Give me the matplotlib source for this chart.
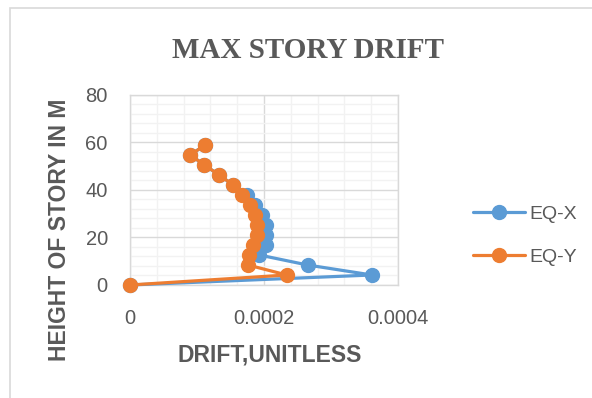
import matplotlib
matplotlib.use("Agg")
import matplotlib.pyplot as plt
from matplotlib.patches import Rectangle
from matplotlib.ticker import MultipleLocator

# story heights (m) and max drift per story for both load cases
height = [0, 4.2, 8.4, 12.6, 16.8, 21.0, 25.2, 29.4, 33.6, 37.8, 42.0, 46.2, 50.4, 54.6, 58.8]
drift_x = [0, 0.000361, 0.000265, 0.000193, 0.000203, 0.000203, 0.000203, 0.000197,
           0.000187, 0.000174, 0.000154, 0.000133, 0.000111, 0.000090, 0.000112]
drift_y = [0, 0.000234, 0.000176, 0.000177, 0.000184, 0.000189, 0.000189, 0.000187,
           0.000179, 0.000167, 0.000154, 0.000133, 0.000111, 0.000090, 0.000112]

x_ticks = [0, 0.0002, 0.0004]
x_tick_labels = ["0", "0.0002", "0.0004"]
y_ticks = [0, 20, 40, 60, 80]

blue = "#5B9BD5"
orange = "#ED7D31"
text_gray = "#595959"

W, H = 592, 398
fig = plt.figure(figsize=(W / 100, H / 100), dpi=100)
fig.patch.set_facecolor("white")

# chart frame
fig.patches.append(Rectangle((10 / W, -0.1), 1.2, 1 - 8 / H + 0.1, transform=fig.transFigure,
                             fill=False, edgecolor="#d9d9d9", linewidth=1.2))

ax = fig.add_axes([130 / W, 1 - 285 / H, 268 / W, (285 - 94.5) / H])

ax.plot(drift_x, height, color=blue, lw=2.3, marker="o", ms=10, label="EQ-X",
        solid_capstyle="round", zorder=3, clip_on=False)
ax.plot(drift_y, height, color=orange, lw=2.3, marker="o", ms=10, label="EQ-Y",
        solid_capstyle="round", zorder=4, clip_on=False)

ax.set_xlim(0, 0.0004)
ax.set_ylim(0, 80)
ax.set_xticks(x_ticks)
ax.set_xticklabels(x_tick_labels)
ax.set_yticks(y_ticks)
ax.xaxis.set_minor_locator(MultipleLocator(0.00004))
ax.yaxis.set_minor_locator(MultipleLocator(4))
ax.grid(which="minor", color="#f2f2f2", lw=1.0, zorder=0)
ax.grid(which="major", color="#d9d9d9", lw=1.0, zorder=1)
ax.set_axisbelow(True)
for s in ax.spines.values():
    s.set_color("#d9d9d9")
    s.set_linewidth(1.0)
ax.tick_params(which="both", length=0)
ax.tick_params(axis="x", pad=17, labelsize=14.5, labelcolor=text_gray)
ax.tick_params(axis="y", pad=16, labelsize=14.5, labelcolor=text_gray)
for lab in ax.get_xticklabels() + ax.get_yticklabels():
    lab.set_family("Liberation Sans")

ax.set_xlabel("DRIFT,UNITLESS", fontsize=16.5, fontweight="bold", color=text_gray,
              family="Liberation Sans", va="center")
ax.xaxis.set_label_coords(0.52, -(355 - 285) / 190.5)
ax.set_ylabel("HEIGHT OF STORY IN M", fontsize=16.5, fontweight="bold", color=text_gray,
              family="Liberation Sans", va="center")
ax.yaxis.set_label_coords(-(130 - 60) / 268, (285 - 230) / 190.5)

fig.text(308 / W, 1 - 50 / H, "MAX STORY DRIFT", ha="center", va="center",
         fontsize=21, fontweight="bold", color=text_gray, family="Liberation Serif")

leg = ax.legend(loc="center left", bbox_to_anchor=(463 / W, 1 - 235.5 / H),
                bbox_transform=fig.transFigure, frameon=False, handlelength=2.7,
                handletextpad=0.2, borderpad=0, labelspacing=1.3,
                prop={"family": "Liberation Sans", "size": 14})
for t in leg.get_texts():
    t.set_color(text_gray)

fig.savefig("out.png", dpi=100)
